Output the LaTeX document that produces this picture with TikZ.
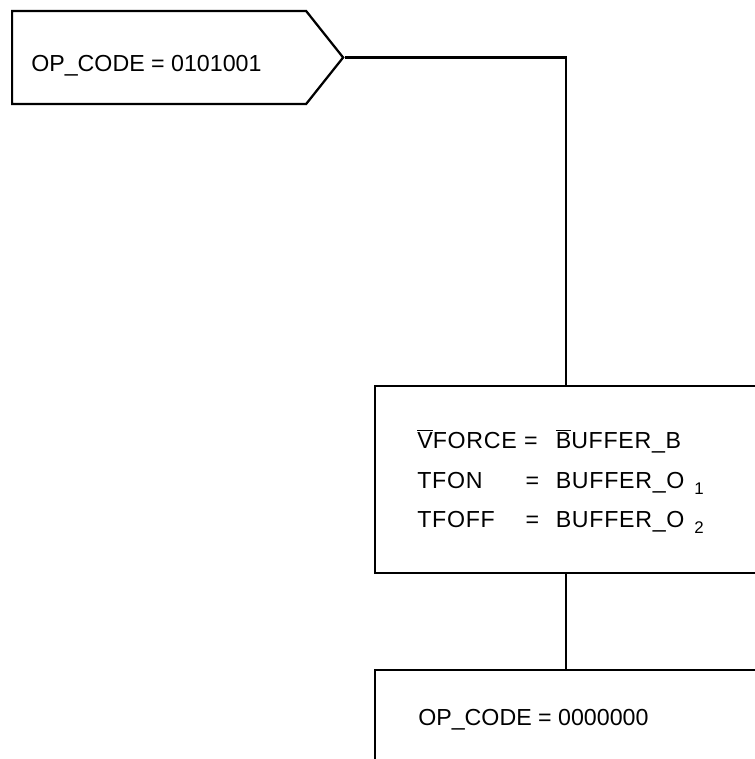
\documentclass[tikz,border=0pt]{standalone}
\usepackage{fontspec}
\setmainfont{Liberation Sans}
\usetikzlibrary{shapes.symbols, positioning}

\newcommand{\eqcol}[2]{\makebox[76pt][l]{#1}\makebox[22.5pt][l]{#2}}
\newcommand{\lowsub}[1]{\hspace{7pt}\raisebox{-4.3pt}{\fontsize{12}{12}\selectfont #1}}

\begin{document}
\begin{tikzpicture}[x=0.025cm, y=-0.025cm,
  sigbox/.style={draw=black, line width=1.6pt, signal, signal to=east, signal pointer angle=103, minimum width=331*0.025cm, minimum height=93*0.025cm, inner sep=0pt},
  actbox/.style={draw=black, line width=1.6pt, rectangle, minimum width=382*0.025cm, inner sep=0pt},
  label/.style={anchor=base west, inner sep=0pt, font=\fontsize{16.5}{20}\selectfont},
  spaced/.style={label, font=\fontsize{16.5}{20}\selectfont\addfontfeature{LetterSpace=3}},
  wire/.style={line width=1.6pt, black},
]
  \useasboundingbox (0,0) rectangle (755,759);
  \clip (0,0) rectangle (755,759);

  \node[sigbox, anchor=west] (opsig) at (11,57.5) {};
  \node[actbox, minimum height=187*0.025cm] (assign) at (566,479.5) {};
  \node[actbox, minimum height=140*0.025cm, anchor=north] (reset) at (566,669) {};

  \node[label] (opsigtxt) at (31,71) {OP\_CODE = 0101001};

  \node[spaced] (vforce) at (417,448) {\eqcol{$\overline{\mbox{V}}$FORCE}{=}$\overline{\mbox{B}}$UFFER\_B};
  \node[spaced] (tfon)   at (417,488) {\eqcol{TFON}{\hspace{1pt}=}BUFFER\_O\lowsub{1}};
  \node[spaced] (tfoff)  at (417,527) {\eqcol{TFOFF}{\hspace{1pt}=}BUFFER\_O\lowsub{2}};

  \node[label] (resettxt) at (418,725) {OP\_CODE = 0000000};

  \draw[wire] (opsig.east) -| (assign.north);
  \draw[wire] (assign.south) -- (reset.north);
\end{tikzpicture}
\end{document}
